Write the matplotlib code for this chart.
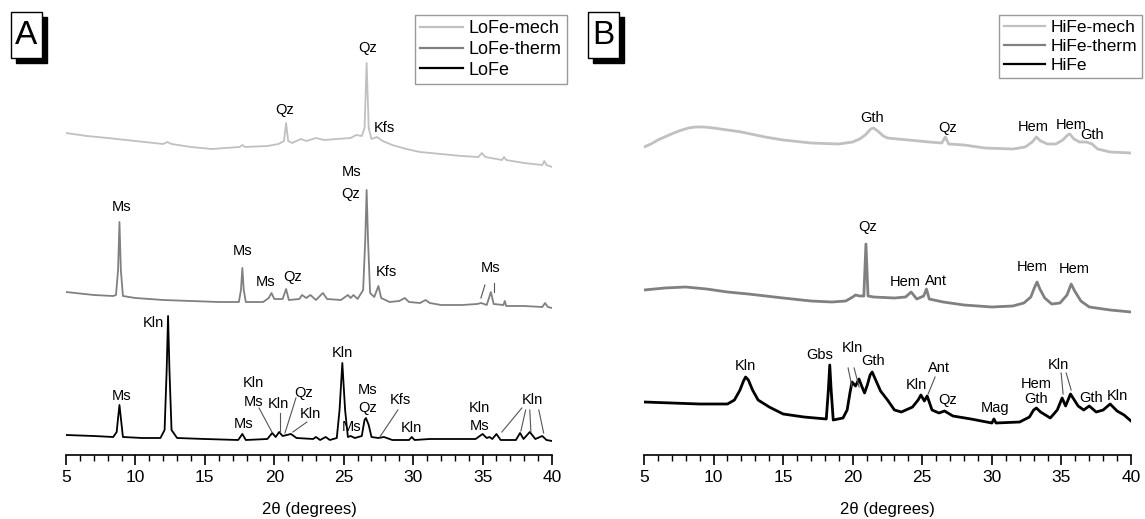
import matplotlib
matplotlib.use("Agg")
import matplotlib.pyplot as plt
from matplotlib.patches import Rectangle

plt.rcParams['font.family'] = ['Liberation Sans', 'DejaVu Sans']

# ---- panel A : LoFe patterns (2theta, intensity in arb. units) ----
lofe_mech_x = [5.0, 6.5, 8.0, 10.0, 12.0, 12.3, 12.6, 14.0, 15.5, 17.5, 17.7, 17.9, 19.5, 20.3, 20.7,
               20.85, 21.0, 21.3, 21.9, 22.3, 23.0, 23.6, 24.5, 25.5, 25.9, 26.3, 26.5, 26.65, 26.8,
               27.0, 27.4, 27.8, 28.5, 29.5, 30.5, 32.0, 33.5, 34.7, 34.95, 35.2, 36.4, 36.55, 36.7,
               38.0, 39.3, 39.45, 39.6, 40.0]
lofe_mech_y = [322, 319, 317, 314, 311, 313, 311, 308, 306, 308, 310, 308, 309, 311, 314,
               332, 314, 312, 316, 314, 317, 315, 316, 317, 320, 319, 327, 392, 327,
               316, 318, 314, 310, 306, 303, 301, 299, 298, 302, 298, 295, 298, 295,
               292, 290, 294, 290, 288]

lofe_therm_x = [5.0, 7.0, 8.4, 8.6, 8.75, 8.85, 8.95, 9.1, 10.0, 12.0, 14.0, 16.0, 17.45, 17.6, 17.7,
                17.8, 17.95, 19.2, 19.6, 19.8, 20.0, 20.6, 20.85, 21.05, 21.8, 22.0, 22.3, 22.6,
                23.0, 23.5, 23.8, 24.8, 25.3, 25.5, 25.7, 26.0, 26.4, 26.55, 26.65, 26.75, 26.9,
                27.2, 27.5, 27.7, 28.3, 29.0, 29.4, 29.7, 30.5, 30.9, 31.2, 32.0, 33.5, 34.6,
                34.9, 35.3, 35.6, 35.8, 36.5, 36.6, 36.7, 38.0, 39.3, 39.5, 39.7, 40.0]
lofe_therm_y = [163, 160, 159, 160, 185, 233, 185, 159, 157, 155, 154, 153, 153, 165, 187,
                165, 153, 153, 157, 162, 156, 156, 166, 155, 156, 160, 157, 160,
                155, 162, 156, 155, 160, 157, 160, 156, 165, 215, 265, 215, 162,
                158, 169, 157, 153, 154, 157, 153, 152, 155, 152, 150, 150, 151,
                152, 150, 163, 151, 150, 154, 149, 149, 148, 152, 148, 147]

lofe_x = [5.0, 7.0, 8.4, 8.65, 8.75, 8.85, 8.95, 9.1, 10.5, 11.8, 12.1, 12.25, 12.35, 12.45, 12.6,
          13.0, 15.0, 17.4, 17.7, 17.95, 19.5, 19.85, 20.1, 20.35, 20.6, 20.9, 21.2, 21.6, 22.8,
          23.0, 23.3, 23.7, 24.0, 24.5, 24.7, 24.9, 25.1, 25.3, 25.5, 25.8, 26.3, 26.5, 26.6,
          26.8, 27.0, 27.5, 27.9, 28.5, 29.7, 29.9, 30.1, 31.2, 32.0, 34.5, 35.0, 35.3, 35.5,
          35.7, 36.0, 36.3, 37.4, 37.7, 37.95, 38.4, 38.8, 39.3, 39.6, 40.0]
lofe_y = [20, 19, 18, 23, 37, 50, 37, 18, 17, 17, 25, 85, 139, 85, 25,
          17, 16, 15, 21, 15, 16, 22, 18, 23, 19, 20, 21, 17, 16,
          18, 15, 18, 15, 17, 45, 92, 45, 18, 19, 17, 19, 35, 37,
          30, 18, 17, 18, 15, 15, 18, 15, 16, 16, 16, 21, 17, 18,
          16, 21, 15, 15, 22, 16, 23, 16, 19, 15, 14]

# ---- panel B : HiFe patterns ----
hife_mech_x = [5.0, 5.5, 6.0, 6.8, 7.5, 8.2, 8.7, 9.3, 10.0, 11.0, 12.0, 13.7, 15.0, 17.0, 19.0, 20.0,
               20.5, 20.9, 21.3, 21.5, 21.8, 22.2, 22.5, 24.0, 25.5, 26.4, 26.65, 26.9, 28.0,
               29.5, 31.5, 32.4, 32.9, 33.2, 33.5, 34.0, 34.6, 35.1, 35.45, 35.6, 35.9, 36.3,
               36.8, 37.2, 37.6, 38.5, 40.0]
hife_mech_y = [308, 311, 315, 320, 324, 327, 328, 328, 327, 325, 323, 318, 315, 312, 311, 313,
               316, 320, 326, 327, 324, 319, 317, 315, 313, 312, 318, 311, 310,
               307, 306, 308, 313, 318, 314, 311, 311, 315, 320, 321, 316, 313,
               313, 311, 306, 303, 302]

hife_therm_x = [5.0, 6.5, 8.0, 9.5, 11.0, 12.5, 15.0, 17.0, 18.5, 19.5, 20.0, 20.2, 20.5, 20.8,
                20.95, 21.1, 21.5, 23.0, 23.8, 24.2, 24.6, 25.1, 25.3, 25.5, 26.5, 28.0, 30.0,
                31.5, 32.3, 32.8, 33.05, 33.25, 33.45, 33.8, 34.3, 34.9, 35.4, 35.7, 35.95,
                36.4, 37.0, 38.5, 40.0]
hife_therm_y = [165, 167, 168, 166, 163, 161, 157, 154, 153, 154, 158, 160, 159, 159,
                211, 159, 158, 157, 158, 163, 156, 159, 166, 156, 153, 150, 148,
                149, 152, 158, 167, 173, 166, 157, 151, 152, 160, 171, 164,
                154, 148, 145, 143]

hife_x = [5.0, 7.0, 9.0, 11.0, 11.5, 11.9, 12.15, 12.3, 12.5, 12.8, 13.2, 14.0, 15.0, 16.5, 18.1,
          18.25, 18.35, 18.45, 18.6, 19.3, 19.6, 19.8, 19.95, 20.2, 20.45, 20.7, 20.85, 21.05,
          21.25, 21.4, 21.65, 22.0, 22.5, 23.0, 23.5, 24.3, 24.7, 24.9, 25.15, 25.35, 25.7,
          26.2, 26.6, 27.2, 28.5, 30.0, 30.15, 30.3, 32.0, 32.7, 33.0, 33.2, 33.5, 34.2, 34.7,
          35.05, 35.3, 35.65, 36.2, 36.6, 37.0, 37.5, 38.0, 38.5, 39.0, 39.5, 40.0]
hife_y = [53, 52, 51, 51, 55, 65, 74, 78, 75, 65, 55, 48, 41, 38, 36,
          65, 90, 65, 35, 37, 45, 62, 73, 69, 76, 67, 62, 70,
          80, 83, 75, 64, 55, 45, 43, 48, 55, 60, 54, 59, 45,
          42, 44, 39, 36, 32, 36, 32, 33, 38, 45, 47, 43, 37, 45,
          57, 49, 61, 49, 45, 49, 43, 45, 51, 44, 40, 34]

# phase labels: (text, 2theta, intensity)
labels_a = [("Qz", 20.77, 345), ("Qz", 26.74, 407), ("Kfs", 27.9, 327), ("Ms", 25.6, 283), ("Qz", 25.5, 261),
            ("Ms", 9.03, 248), ("Ms", 17.74, 204), ("Ms", 19.4, 173), ("Qz", 21.3, 178), ("Kfs", 28.1, 183),
            ("Ms", 35.6, 187),
            ("Ms", 9.03, 59), ("Kln", 11.3, 132), ("Ms", 17.8, 31), ("Kln", 18.5, 72), ("Ms", 18.5, 53),
            ("Kln", 20.3, 51), ("Qz", 22.1, 62), ("Kln", 22.6, 41), ("Kln", 24.9, 102), ("Ms", 25.6, 28),
            ("Ms", 26.7, 65), ("Qz", 26.7, 47), ("Kfs", 29.1, 55), ("Kln", 29.9, 27), ("Kln", 34.8, 47),
            ("Ms", 34.8, 29), ("Kln", 38.6, 55)]
leaders_a = [(18.9, 47, 19.83, 23), (20.4, 42, 20.4, 23), (21.56, 57, 20.77, 22), (22.35, 33, 21.34, 23),
             (28.9, 45, 27.6, 18), (37.83, 47, 36.39, 23), (38.1, 45, 37.76, 24), (38.4, 45, 38.48, 23),
             (39.05, 45, 39.4, 22), (35.17, 170, 34.88, 157), (35.81, 172, 35.81, 163)]

labels_b = [("Gth", 21.4, 337), ("Qz", 26.8, 327), ("Hem", 33.0, 328), ("Hem", 35.7, 330), ("Gth", 37.2, 320),
            ("Qz", 21.1, 228), ("Hem", 23.8, 173), ("Ant", 26.0, 174), ("Hem", 32.9, 188), ("Hem", 35.9, 186),
            ("Kln", 12.3, 89), ("Gbs", 17.65, 100), ("Kln", 19.95, 107), ("Gth", 21.46, 94), ("Kln", 24.6, 70),
            ("Ant", 26.2, 87), ("Qz", 26.8, 55), ("Mag", 30.2, 47), ("Hem", 33.2, 71), ("Gth", 33.2, 56),
            ("Kln", 34.8, 90), ("Gth", 37.1, 57), ("Kln", 39.0, 59)]
leaders_b = [(19.67, 87, 19.95, 68), (20.1, 87, 20.46, 68), (25.92, 78, 25.42, 61),
             (34.98, 82, 35.12, 61), (35.34, 82, 35.7, 65)]

W, H = 1145, 519
fig = plt.figure(figsize=(W / 100, H / 100), dpi=100)

def make_panel(left, right, bx, letter, traces, names, labels, leaders, legend_loc, legend_anchor, lw, legfs):
    ax = fig.add_axes([left / W, (H - 455) / H, (right - left) / W, 455 / H])
    colors = ['#c0c0c0', '#808080', '#000000']
    for (x, y), c, n in zip(traces, colors, names):
        ax.plot(x, y, color=c, lw=lw, label=n, solid_joinstyle='round')
    for t, x, y in labels:
        ax.text(x, y, t, ha='center', va='center', fontsize=10.5)
    for x0, y0, x1, y1 in leaders:
        ax.plot([x0, x1], [y0, y1], color='#555555', lw=0.8)
    ax.set_xlim(5, 40)
    ax.set_ylim(0, 455)
    for s in ['left', 'right', 'top']:
        ax.spines[s].set_visible(False)
    ax.spines['bottom'].set_linewidth(1.2)
    ax.set_yticks([])
    ax.set_xticks(range(5, 41, 5))
    ax.set_xticks(range(5, 41), minor=True)
    ax.tick_params(axis='x', which='major', length=7, width=1.2, labelsize=12.5, pad=4)
    ax.tick_params(axis='x', which='minor', length=4, width=1.0)
    ax.set_xlabel('2θ (degrees)', fontsize=12, labelpad=12)
    leg = ax.legend(loc=legend_loc, bbox_to_anchor=legend_anchor, fontsize=legfs, frameon=True,
                    fancybox=False, edgecolor='#808080', handlelength=2.4, handletextpad=0.3,
                    labelspacing=0.2, borderpad=0.3, borderaxespad=0)
    leg.get_frame().set_linewidth(1.0)
    for line in leg.get_lines():
        line.set_linewidth(1.6)
    # panel letter with drop shadow
    fig.add_artist(Rectangle(((bx + 5) / W, (H - 63) / H), 31 / W, 46 / H, transform=fig.transFigure,
                             facecolor='black', edgecolor='black'))
    fig.add_artist(Rectangle((bx / W, (H - 58) / H), 31 / W, 46 / H, transform=fig.transFigure,
                             facecolor='white', edgecolor='black', lw=1))
    fig.text((bx + 15.5) / W, (H - 35) / H, letter, ha='center', va='center', fontsize=24)
    return ax

make_panel(66, 552, 11, 'A', [(lofe_mech_x, lofe_mech_y), (lofe_therm_x, lofe_therm_y), (lofe_x, lofe_y)],
           ['LoFe-mech', 'LoFe-therm', 'LoFe'], labels_a, leaders_a, 'upper right', (1.031, 0.967), 1.3, 13)
make_panel(644, 1131, 588, 'B', [(hife_mech_x, hife_mech_y), (hife_therm_x, hife_therm_y), (hife_x, hife_y)],
           ['HiFe-mech', 'HiFe-therm', 'HiFe'], labels_b, leaders_b, 'upper left', (0.728, 0.967), 2.0, 12.5)

fig.savefig('out.png', dpi=100)
